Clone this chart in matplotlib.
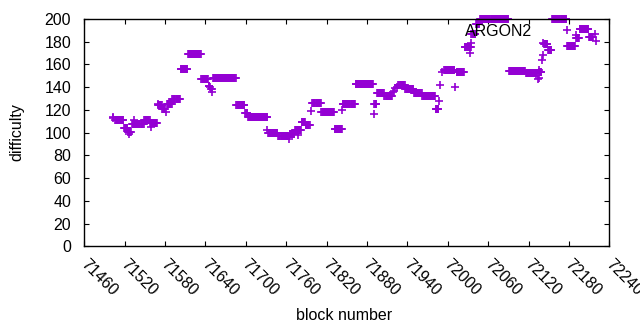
#!/usr/bin/env python3
import numpy as np
import matplotlib
matplotlib.use("Agg")
import matplotlib.pyplot as plt
from matplotlib.transforms import ScaledTranslation

# runs of blocks where difficulty stayed constant (first block, last block, difficulty)
run_start = [71506, 71519, 71525, 71531, 71549, 71558, 71570, 71576, 71583, 71591,
             71603, 71614, 71634, 71651, 71686, 71699, 71703, 71733, 71748, 71765,
             71773, 71783, 71789, 71799, 71812, 71832, 71844, 71863, 71891, 71895,
             71906, 71928, 71937, 71950, 71962, 71982, 71995, 72013, 72025, 72035,
             72042, 72048, 72091, 72116, 72136, 72143, 72149, 72155, 72177, 72191,
             72196, 72210]
run_end = [71518, 71524, 71529, 71548, 71557, 71568, 71575, 71580, 71590, 71602,
           71613, 71633, 71644, 71685, 71698, 71702, 71732, 71747, 71763, 71772,
           71782, 71788, 71795, 71811, 71831, 71843, 71862, 71889, 71894, 71905,
           71917, 71936, 71949, 71961, 71981, 71986, 72010, 72024, 72034, 72041,
           72047, 72090, 72115, 72133, 72139, 72148, 72154, 72176, 72189, 72195,
           72209, 72216]
run_diff = [111, 104, 101, 108, 111, 108.5, 124, 121, 125, 130,
            156, 169, 147, 148, 124.5, 117, 114, 100, 97, 99,
            102, 109, 106.5, 126, 118, 103, 125, 143, 125, 135,
            132, 142, 138, 135, 132, 121, 155, 153, 175, 187,
            196, 200, 154, 152.5, 153, 178, 173, 200, 176, 183,
            191, 184]

# single blocks off the runs
pt_block = [71502, 71503, 71527, 71534, 71559, 71569, 71581, 71645, 71646, 71647,
            71648, 71649, 71650, 71732, 71764, 71778, 71797, 71843, 71890, 71918,
            71920, 71922, 71924, 71926, 71987, 71989, 71991, 72011, 72033, 72035,
            72134, 72135, 72136, 72140, 72141, 72142, 72190, 72219, 72220]
pt_diff = [114, 113, 99, 111.5, 105, 125, 118, 141, 141, 140,
           138, 138, 136, 102, 94, 98, 119, 119.5, 116.5, 136,
           137, 139, 140, 142, 128, 142, 153, 140, 170, 179,
           147, 155, 148, 164, 168, 179, 186, 187, 181]

blocks = list(pt_block)
diffs = list(pt_diff)
for s, e, d in zip(run_start, run_end, run_diff):
    for b in range(s, e + 1):
        blocks.append(b)
        diffs.append(d)

plt.rcParams['font.family'] = ['Liberation Sans', 'DejaVu Sans']
plt.rcParams['font.size'] = 11.5

fig = plt.figure(figsize=(6.4, 3.3), dpi=100)
ax = fig.add_axes([84.3 / 640, 1 - 246.3 / 330, (609.3 - 84.3) / 640, (246.3 - 19) / 330])

ax.plot(blocks, diffs, ls='none', marker='+', ms=5.6, mew=1.2,
        color='#9400d3', clip_on=False, label='ARGON2')

ax.set_xlim(71460, 72240)
ax.set_ylim(0, 200)
ax.set_xticks(np.arange(71460, 72241, 60))
ax.set_yticks(np.arange(0, 201, 20))

ax.tick_params(direction='in', top=True, right=True, length=3.5, width=0.8)
ax.tick_params(axis='y', pad=9.5)
ax.tick_params(axis='x', pad=7.5)
for sp in ax.spines.values():
    sp.set_linewidth(1.0)

for lab in ax.get_xticklabels():
    lab.set_rotation(-45)
    lab.set_ha('left')
    lab.set_va('top')
    lab.set_rotation_mode('anchor')
    lab.set_transform(lab.get_transform() + ScaledTranslation(4 / 100, 0, fig.dpi_scale_trans))

ax.set_xlabel('block number')
ax.xaxis.set_label_coords((344 - 84.3) / 525, -(316 - 246.3) / 227.3)
ax.xaxis.label.set_va('center')
ax.set_ylabel('difficulty')
ax.yaxis.set_label_coords(-(84.3 - 17) / 525, (246.3 - 132) / 227.3)
ax.yaxis.label.set_va('center')

ax.legend(loc='upper right', bbox_to_anchor=(583 / 640, 1 - 24 / 330),
          bbox_transform=fig.transFigure, markerfirst=False, frameon=False,
          handlelength=2, handletextpad=1.2, borderpad=0, borderaxespad=0)

fig.savefig('out.png', dpi=100)
